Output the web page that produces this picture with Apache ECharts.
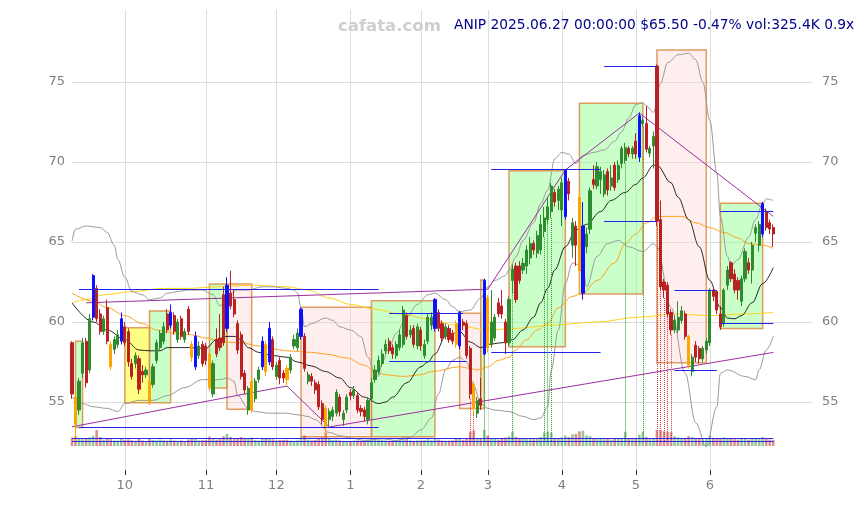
<!DOCTYPE html>
<html><head><meta charset="utf-8">
<script src="https://cdn.jsdelivr.net/npm/echarts@6/dist/echarts.min.js"></script>
<style>html,body{margin:0;padding:0;background:#fff}#c{width:864px;height:505px}</style>
</head><body><div id="c"></div>
<script>
const lastDay = '2025-06-27';
const holidays = ['2024-11-28','2024-12-25','2025-01-01','2025-01-09','2025-01-20','2025-02-17','2025-04-18','2025-05-26','2025-06-19'];
const padDays = 11;

// [open, close, low, high, signal]  signal: 'b' blue, 'o' orange
const ohlc = [
[58.7,55.5,55.2,58.8],[55.3,53.6,52.6,55.6,'o'],[54.5,56.3,54.2,56.5],[56.8,58.7,56.5,59.0],[58.8,56.2,55.9,59.0],
[57.0,60.2,56.8,60.5],[60.3,62.9,60.1,63.0,'b'],[62.1,60.2,60.0,62.3],[60.5,59.4,59.2,60.8],[59.4,60.2,59.2,60.4],
[60.9,58.8,58.6,61.4],[58.6,57.2,57.0,58.8,'o'],[58.3,58.9,58.0,59.1],[58.6,59.2,58.4,59.5],[58.8,60.2,58.6,60.6,'b'],
[59.7,58.7,58.5,60.0],[59.4,57.5,57.2,59.6],[57.4,56.6,56.4,57.7],[57.4,57.9,57.1,58.1],[57.7,55.8,55.5,57.9],
[56.9,56.7,56.2,57.3],[56.7,57.0,56.5,57.2],[56.3,55.0,54.8,56.5,'o'],[56.1,57.2,55.9,57.4],[57.6,58.7,57.4,58.9],
[58.4,59.3,58.2,59.5],[58.8,59.7,58.6,60.0],[60.5,59.5,59.3,60.8],[59.8,60.6,59.6,61.1,'b'],[60.4,59.4,59.2,60.6],
[58.9,60.0,58.7,60.2],[60.2,59.1,58.9,60.4],[58.9,59.4,58.7,59.6],[60.8,59.4,59.2,61.0],[58.6,57.8,57.5,58.8,'o'],
[57.2,59.1,57.0,59.4,'b'],[57.9,58.5,57.7,58.8],[58.6,57.4,57.2,58.8],[58.5,57.6,57.3,58.7],[58.0,55.9,55.7,58.2,'o'],
[55.5,57.4,55.3,57.6],[58.9,58.0,57.8,59.6],[59.0,58.4,58.2,60.5],[61.7,58.7,58.5,62.2],[59.6,62.3,59.4,62.8,'b'],
[61.8,61.0,60.8,63.2],[61.4,60.5,60.3,62.0],[59.9,58.25,58.0,60.1],[59.2,56.6,56.4,59.4],[56.8,55.75,55.5,57.0],
[54.5,55.85,54.2,56.0],[56.3,54.5,54.3,56.6,'o'],[55.2,56.3,55.0,56.5],[56.4,57.0,56.2,57.2],[57.2,58.8,57.0,59.1,'b'],
[58.6,56.9,56.6,58.8,'o'],[57.5,59.6,57.3,60.0,'b'],[58.9,57.2,57.0,59.1],[56.6,57.3,56.4,57.5],[57.6,56.5,56.1,57.8],
[56.8,56.5,56.2,57.0],[57.1,56.4,56.0,57.3,'o'],[57.0,57.8,56.8,58.0],[58.5,58.9,58.3,59.2],[58.4,59.3,58.2,59.6],
[59.1,60.8,58.9,60.9,'b'],[59.1,57.1,56.9,59.3],[56.3,56.7,56.1,56.9],[56.6,56.3,56.0,56.8],[56.2,55.75,55.5,56.4],
[56.1,54.7,54.5,56.3],[54.9,53.9,53.6,55.1],[54.6,53.4,52.8,54.8,'o'],[53.9,54.4,53.5,54.6],[54.1,54.5,53.8,54.7],
[54.3,55.6,54.1,55.8],[55.3,54.4,54.1,55.5],[53.9,54.3,53.5,54.5],[54.5,55.3,54.3,55.5],[55.6,55.4,55.1,55.8],
[55.4,55.75,55.2,56.0],[55.4,54.5,54.3,55.6],[54.6,54.4,54.1,54.8],[54.5,54.1,53.8,54.7],[53.9,55.1,53.6,55.3],
[55.2,56.2,55.0,56.5],[56.4,57.0,56.2,57.3],[56.9,57.6,56.7,57.9],[57.4,58.0,57.2,58.3],[58.2,58.6,58.0,58.9],
[58.8,58.2,58.0,59.0],[58.4,58.0,57.7,58.6],[57.9,58.6,57.7,58.8],[58.4,59.2,58.2,59.5],[58.6,60.75,58.4,61.0],
[60.4,59.1,58.9,60.6],[59.2,59.5,59.0,59.8],[59.6,58.6,58.4,59.8],[58.5,59.7,58.3,59.9],[59.5,58.5,58.2,59.7],
[57.9,58.6,57.7,58.9],[58.8,60.3,58.6,60.5],[59.8,60.3,59.5,60.6],[59.6,61.4,59.4,61.5,'b'],[60.6,59.6,59.4,60.8],
[59.9,59.0,58.8,60.1],[59.1,59.7,58.9,59.9],[59.6,58.9,58.7,59.8],[59.3,58.8,58.6,59.5],[59.9,58.6,58.4,60.1,'o'],
[58.5,60.6,58.3,60.7,'b'],[60.0,59.8,59.5,60.2],[59.9,57.9,57.7,60.1],[58.35,55.5,55.2,58.5],[56.1,54.6,54.2,56.3,'o'],
[54.3,55.1,54.0,55.3],[55.2,54.8,54.5,56.5],[58.0,62.6,57.9,62.7,'b'],[61.5,58.4,58.1,61.7,'o'],[58.6,60.0,58.4,62.0],
[59.0,60.3,58.8,60.5],[61.2,60.5,60.3,61.5],[61.0,60.5,60.2,62.0],[60.0,58.7,58.0,60.2],[58.7,61.4,58.5,61.6],
[62.6,63.3,61.8,63.6],[63.5,61.4,61.2,63.7],[63.5,62.6,62.4,63.8],[63.25,63.67,63.0,64.0],[63.5,64.5,63.0,64.8],
[64.0,64.9,63.6,65.3],[64.9,64.5,64.2,65.1],[64.3,65.4,64.0,65.7],[64.5,66.1,64.2,66.7],[65.65,66.5,65.3,67.2],
[66.4,67.2,66.1,67.8],[66.9,68.5,66.5,68.7],[68.1,67.5,67.2,68.3],[67.6,68.3,67.0,68.5],[67.0,68.7,66.0,69.0],
[66.6,69.5,66.4,69.55,'b'],[68.8,68.0,67.6,69.0],[64.8,66.2,64.0,66.5],[66.0,64.8,63.5,66.3],[67.8,63.2,61.8,68.4,'o'],
[61.8,66.0,61.4,67.5,'b'],[64.7,65.5,64.3,65.9],[65.8,68.2,65.5,68.4],[68.9,68.6,68.3,69.8],[68.5,69.7,68.3,70.0],
[68.9,69.4,68.0,69.7],[68.0,69.2,67.8,69.5],[69.4,68.25,67.9,69.6],[68.5,69.0,68.2,69.8],[69.8,68.4,68.2,70.0],
[68.9,69.8,68.7,70.1],[69.9,70.85,69.6,71.0],[70.1,70.9,69.9,71.2],[70.85,70.5,70.3,71.0],[70.5,70.85,70.2,71.0],
[71.3,70.5,70.2,71.8],[70.3,72.9,70.0,73.1,'b'],[72.4,72.6,72.2,72.8],[72.4,70.8,70.6,73.5],[70.55,70.85,70.3,71.0],
[71.0,71.6,69.6,71.9],[76.0,66.3,66.0,76.1],[66.4,62.2,62.0,67.6],[62.5,62.0,61.5,62.7],[62.3,60.5,60.3,62.5],
[60.6,59.5,59.2,60.8],[59.5,60.1,59.3,60.4],[59.5,60.3,59.3,61.3],[60.1,60.7,59.9,61.0],[60.5,59.1,58.9,60.7],
[59.1,57.3,57.1,59.2,'o'],[56.9,57.8,56.6,58.0],[58.55,57.8,57.5,58.8],[58.35,57.7,57.4,58.5],[57.7,58.35,57.5,58.5],
[58.25,58.8,58.0,59.0],[58.7,62.0,58.5,62.1],[62.0,61.6,61.3,62.2],[61.9,60.75,60.5,62.0],[60.5,59.7,59.5,61.0],
[59.9,62.0,59.7,62.1],[62.3,63.25,62.0,63.5],[63.7,62.7,62.5,63.8],[63.0,62.0,61.8,63.3],[62.6,62.0,61.4,62.8],
[61.3,62.7,61.0,62.9],[62.7,64.4,62.5,64.6],[63.7,63.25,63.0,64.0],[63.25,64.8,62.4,65.0],[65.55,65.9,65.0,66.1],
[64.8,66.1,64.4,66.3],[65.5,67.4,65.3,67.5,'b'],[66.9,65.9,65.7,67.1],[66.2,65.81,65.5,66.4],[65.9,65.5,64.7,66.1]
];

// volume in thousands
const volume = [
450,520,380,360,410,460,540,980,480,330, 380,360,300,290,420,330,350,310,280,400,
300,260,380,320,300,340,310,290,350,300, 280,300,260,340,380,420,300,310,330,500,
380,340,360,520,640,480,360,400,470,420, 380,450,320,300,420,380,430,350,300,320,
320,330,290,280,300,480,560,340,300,320, 420,460,720,380,320,340,300,280,260,240,
290,300,270,280,330,360,380,340,320,300, 280,290,310,330,460,380,300,280,300,290,
310,360,300,420,340,300,280,290,300,380, 420,330,420,760,820,420,380,900,560,420,
380,340,400,450,520,760,480,420,380,400, 420,360,420,480,720,760,700,420,380,450,
560,480,620,640,780,820,560,520,420,380, 400,360,380,340,400,380,420,760,420,380,
400,600,760,480,400,380,1150,900,780,760, 740,520,460,420,440,520,480,400,380,360,
380,560,440,400,380,460,420,380,360,340, 380,420,340,400,380,360,480,380,340,325.4
];
const volLineHi = 410, volLineLo = 265;

// indicator lines: [day index, value]
const ma20 = [[0,61.2],[6,60.0],[10,59.5],[15,58.9],[19,58.25],[22,58.2],[25,58.2],[27,58.4],[34,58.4],[38,58.35],[41,58.9],[44,59.1],[46,59.1],[48,58.9],[50,58.4],[53,58.1],[57,57.9],[61,57.8],[64,57.5],[68,57.25],[72,56.9],[76,56.5],[79,55.9],[83,55.3],[87,54.9],[89,55.0],[91,55.3],[95,56.2],[99,57.2],[101,57.5],[103,58.0],[106,59.1],[110,59.4],[113,58.75],[116,58.4],[118,58.6],[122,58.7],[125,58.9],[128,59.5],[131,60.3],[133,61.2],[135,62.1],[137,63.25],[140,64.7],[143,65.75],[146,66.1],[150,66.9],[153,67.6],[157,68.1],[160,68.6],[162,69.0],[165,69.8],[166,69.8],[170,68.7],[172,67.8],[175,66.4],[178,64.7],[181,62.6],[184,60.9],[186,60.25],[188,60.2],[190,60.4],[193,61.2],[196,62.4],[199,63.4]];
const bbUpper = [[0,65.06],[1,65.8],[4,66.0],[8,65.9],[10,65.6],[12,64.8],[13,63.9],[15,62.8],[17,61.9],[20,61.7],[22,61.4],[25,61.5],[27,61.8],[30,61.9],[33,62.0],[37,62.0],[40,61.7],[42,61.0],[43,61.2],[45,61.8],[47,62.0],[50,62.0],[54,62.2],[57,62.2],[61,62.1],[63,62.0],[64,61.8],[65,60.9],[66,59.7],[68,59.9],[72,60.25],[74,60.1],[76,59.7],[79,59.5],[82,59.1],[84,57.8],[86,56.7],[87,56.6],[88,57.5],[90,58.4],[92,59.3],[95,60.3],[98,61.1],[101,61.7],[103,61.8],[106,61.4],[108,60.96],[110,60.65],[113,60.75],[116,61.5],[118,62.2],[120,62.6],[123,62.9],[124,63.25],[126,64.08],[128,65.1],[131,66.2],[133,67.4],[135,68.25],[137,70.2],[139,70.6],[141,70.5],[143,69.9],[145,70.4],[148,70.6],[151,70.75],[154,71.3],[156,71.9],[158,72.75],[160,73.6],[162,73.7],[163,73.5],[165,73.1],[167,74.9],[169,76.2],[172,76.7],[175,76.8],[177,76.4],[179,75.0],[181,72.6],[183,69.3],[184,66.6],[186,64.1],[187,63.5],[189,63.9],[192,65.3],[194,66.4],[196,67.4],[197,67.7],[199,67.6]];
const bbLower = [[0,55.3],[3,54.9],[6,54.7],[10,54.6],[13,54.4],[15,54.9],[19,55.1],[23,55.1],[27,55.4],[32,55.9],[37,56.4],[42,56.4],[44,56.5],[46,56.3],[47,55.4],[50,54.6],[52,54.4],[56,54.3],[61,54.3],[64,54.2],[67,54.1],[69,53.9],[73,53.1],[76,52.9],[79,52.75],[83,52.6],[88,52.7],[92,52.6],[96,52.8],[99,53.25],[102,54.0],[104,55.5],[106,57.0],[108,57.6],[110,57.8],[112,57.5],[114,56.0],[116,54.9],[118,54.6],[120,54.5],[124,54.4],[128,54.1],[131,53.9],[133,54.0],[135,54.7],[136,57.0],[138,59.5],[140,62.4],[142,63.7],[145,63.45],[146,62.2],[149,64.1],[152,64.9],[155,65.1],[158,64.7],[162,64.4],[165,64.9],[166,64.7],[170,60.9],[174,56.8],[177,53.7],[180,52.2],[183,54.7],[184,56.8],[186,57.0],[191,56.6],[194,56.4],[195,57.0],[197,58.25],[199,59.1]];
const ma50 = [[0,61.8],[6,61.3],[10,60.9],[15,60.4],[20,59.9],[24,59.5],[29,59.3],[34,59.2],[38,59.0],[43,58.75],[48,58.7],[53,58.5],[61,58.2],[68,58.1],[72,58.0],[78,57.75],[83,57.3],[86,56.9],[89,56.7],[94,56.6],[99,56.7],[102,56.9],[110,57.2],[113,57.1],[115,57.0],[118,57.2],[121,57.6],[124,57.8],[126,58.25],[129,58.9],[132,59.5],[135,59.9],[138,60.9],[142,61.6],[145,61.8],[149,62.6],[154,63.7],[157,64.9],[160,65.5],[163,66.2],[166,66.6],[170,66.6],[173,66.6],[177,66.2],[181,65.9],[185,65.6],[189,65.25],[192,64.9],[196,64.8],[199,64.6]];
const ma200 = [[0,61.2],[4,61.4],[9,61.7],[17,61.9],[26,62.1],[33,62.1],[41,62.2],[51,62.3],[61,62.2],[67,62.0],[73,61.5],[79,61.1],[86,60.8],[93,60.5],[101,60.2],[109,59.8],[118,59.5],[126,59.6],[136,59.8],[149,60.0],[161,60.3],[171,60.5],[181,60.4],[191,60.5],[199,60.6]];

// purple trend lines
const trendLow = [[0,53.45],[61,56.0],[73,53.44],[199,58.1]];
const trendHigh = [[4,61.2],[118,62.05],[140,69.5],[161,73.06],[199,66.6]];

// horizontal levels: [from day, to day, price]
const levels = [[2,87,62.05],[2,87,53.45],[90,111,60.55],[90,112,57.55],[119,150,69.55],[119,150,58.1],[151,166,76.0],[151,166,66.27],[171,183,62.0],[171,183,57.0],[184,199,66.95],[184,199,59.9]];

// zones: [from day, to day, top, bottom, kind]
const zones = [[1,3,58.8,53.4,'g'],[15,22,59.64,54.96,'y'],[22,28,60.69,54.96,'g'],[39,44,62.375,55.875,'g'],[44,51,62.375,54.54,'p'],[65,85,60.92,52.83,'p'],[85,103,61.33,52.83,'g'],[110,116,60.54,54.6,'p'],[116,117,62.625,54.6,'g'],[124,140,69.46,58.46,'g'],[144,162,73.67,61.75,'g'],[166,180,77.0,57.46,'p'],[184,196,67.42,59.6,'g']];

// high-volume days (dotted markers)
const spikeUp = [117,125,134,135,136,157,162];
const spikeDown = [113,114,166,167,168,169,170];

function tradingDays(end, n) {
  const out = [];
  const d = new Date(end + 'T00:00:00Z');
  while (out.length < n) {
    const s = d.toISOString().slice(0, 10);
    const w = d.getUTCDay();
    if (w !== 0 && w !== 6 && holidays.indexOf(s) < 0) out.unshift(s);
    d.setUTCDate(d.getUTCDate() - 1);
  }
  return out;
}
const dates = tradingDays(lastDay, ohlc.length);
const cats = dates.concat(Array.from({length: padDays}, (_, k) => 'pad' + k));
const isMonthStart = (idx) => idx > 0 && idx < dates.length && dates[idx].slice(5, 7) !== dates[idx - 1].slice(5, 7);

const UP = '#2e8b2e', DOWN = '#b82222';
const SIG = {b: '#1010ff', o: '#ffa500'};
const candleData = ohlc.map(r => {
  const v = [r[0], r[1], r[2], r[3]];
  if (r[4]) {
    const c = SIG[r[4]];
    return {value: v, itemStyle: {color: c, color0: c, borderColor: c, borderColor0: c}};
  }
  return v;
});
const volData = volume.map((v, i) => ({
  value: v,
  itemStyle: {color: ohlc[i][1] >= ohlc[i][0] ? 'rgba(46,139,46,0.5)' : 'rgba(184,34,34,0.5)'}
}));
const zoneFill = {g: 'rgba(150,255,150,0.5)', p: 'rgba(255,205,205,0.35)', y: 'rgba(255,255,90,0.75)'};
const areaData = zones.map(z => [
  {coord: [z[0], z[2]], itemStyle: {color: zoneFill[z[4]], borderColor: 'rgba(220,140,70,0.85)', borderWidth: 1.5}},
  {coord: [z[1], z[3]]}
]);
const levelLines = levels.map(l => [{coord: [l[0], l[2]]}, {coord: [l[1], l[2]]}]);
const dotLines = spikeUp.map(i => [{coord: [i, ohlc[i][2]], lineStyle: {color: '#2e9a2e'}}, {coord: [i, 52.5]}])
  .concat(spikeDown.map(i => [{coord: [i, ohlc[i][2]], lineStyle: {color: '#d03a3a'}}, {coord: [i, 52.5]}]));

const FONT = 'DejaVu Sans';
function lineSeries(data, color, width, z) {
  return {type: 'line', data: data, xAxisIndex: 0, yAxisIndex: 0, showSymbol: false, symbol: 'none',
    smooth: 0.35, smoothMonotone: 'x', lineStyle: {color: color, width: width}, z: z, silent: true, animation: false};
}

const chart = echarts.init(document.getElementById('c'), null, {renderer: 'canvas'});
chart.setOption({
  animation: false,
  backgroundColor: '#fff',
  title: [
    {text: 'cafata.com', left: 333, top: 13, padding: 5, textStyle: {color: '#cfcfcf', fontSize: 16.5, fontWeight: 'bold', fontFamily: FONT}},
    {text: 'ANIP 2025.06.27 00:00:00 $65.50 -0.47% vol:325.4K 0.9x', left: 449, top: 13, padding: 5, textStyle: {color: '#00008b', fontSize: 13.8, fontWeight: 'normal', fontFamily: FONT}}
  ],
  grid: [
    {left: 72, right: 52, top: 10, bottom: 35},
    {left: 72, right: 52, top: 430, height: 16}
  ],
  xAxis: [
    {type: 'category', data: cats, gridIndex: 0, boundaryGap: false,
      axisLine: {show: false},
      axisTick: {show: true, interval: isMonthStart, length: 5, lineStyle: {color: '#333'}},
      axisLabel: {interval: isMonthStart, formatter: v => String(parseInt(v.slice(5, 7), 10)), color: '#808080', fontSize: 13, margin: 9, fontFamily: FONT},
      splitLine: {show: true, interval: isMonthStart, lineStyle: {color: '#dddddd', width: 1}}},
    {type: 'category', data: cats, gridIndex: 1, boundaryGap: false, show: false}
  ],
  yAxis: [
    {type: 'value', gridIndex: 0, min: 50.75, max: 79.5, position: 'left', scale: true,
      axisLine: {show: false}, axisTick: {show: false},
      axisLabel: {color: '#808080', fontSize: 13, margin: 7, showMinLabel: false, showMaxLabel: false, fontFamily: FONT},
      splitLine: {show: true, showMinLine: false, showMaxLine: false, lineStyle: {color: '#dddddd', width: 1}}},
    {type: 'value', gridIndex: 0, min: 50.75, max: 79.5, position: 'right', scale: true,
      axisLine: {show: false}, axisTick: {show: false},
      axisLabel: {color: '#808080', fontSize: 13, margin: 10, showMinLabel: false, showMaxLabel: false, fontFamily: FONT},
      splitLine: {show: false}},
    {type: 'value', gridIndex: 1, min: 0, max: 850, show: false}
  ],
  series: [
    {type: 'line', xAxisIndex: 0, yAxisIndex: 0, data: [], z: 1, silent: true,
      markArea: {silent: true, data: areaData}},
    lineSeries(ma200, '#ffd21a', 1, 2),
    lineSeries(ma50, '#ffa31a', 1, 2),
    lineSeries(bbUpper, '#9a9a9a', 1, 2),
    lineSeries(bbLower, '#9a9a9a', 1, 2),
    lineSeries(ma20, '#111111', 0.9, 2),
    {type: 'line', data: trendLow, showSymbol: false, symbol: 'none', lineStyle: {color: '#9b2fa0', width: 1}, z: 2, silent: true},
    {type: 'line', data: trendHigh, showSymbol: false, symbol: 'none', lineStyle: {color: '#9b2fa0', width: 1}, z: 2, silent: true},
    {type: 'candlestick', name: 'ANIP', xAxisIndex: 0, yAxisIndex: 0, data: candleData, barWidth: 2.6, clip: false, z: 3,
      itemStyle: {color: UP, color0: DOWN, borderColor: UP, borderColor0: DOWN, borderWidth: 1}},
    {type: 'line', xAxisIndex: 0, yAxisIndex: 0, data: [], z: 4, silent: true,
      markLine: {silent: true, symbol: ['none', 'none'], label: {show: false},
        lineStyle: {color: '#2222ee', width: 1.1, type: 'solid'}, data: levelLines}},
    {type: 'line', xAxisIndex: 0, yAxisIndex: 0, data: [], z: 1, silent: true,
      markLine: {silent: true, symbol: ['none', 'none'], label: {show: false},
        lineStyle: {width: 1, type: 'dotted'}, data: dotLines}},
    {type: 'bar', xAxisIndex: 1, yAxisIndex: 2, data: volData, barWidth: 2.6, silent: true, z: 2, clip: true,
      markLine: {silent: true, symbol: ['none', 'none'], label: {show: false},
        lineStyle: {color: '#2a2aee', width: 1.2, type: 'solid'},
        data: [[{coord: [0, volLineHi]}, {coord: [ohlc.length - 1, volLineHi]}], [{coord: [0, volLineLo]}, {coord: [ohlc.length - 1, volLineLo]}]]}}
  ]
});
</script>
</body></html>
